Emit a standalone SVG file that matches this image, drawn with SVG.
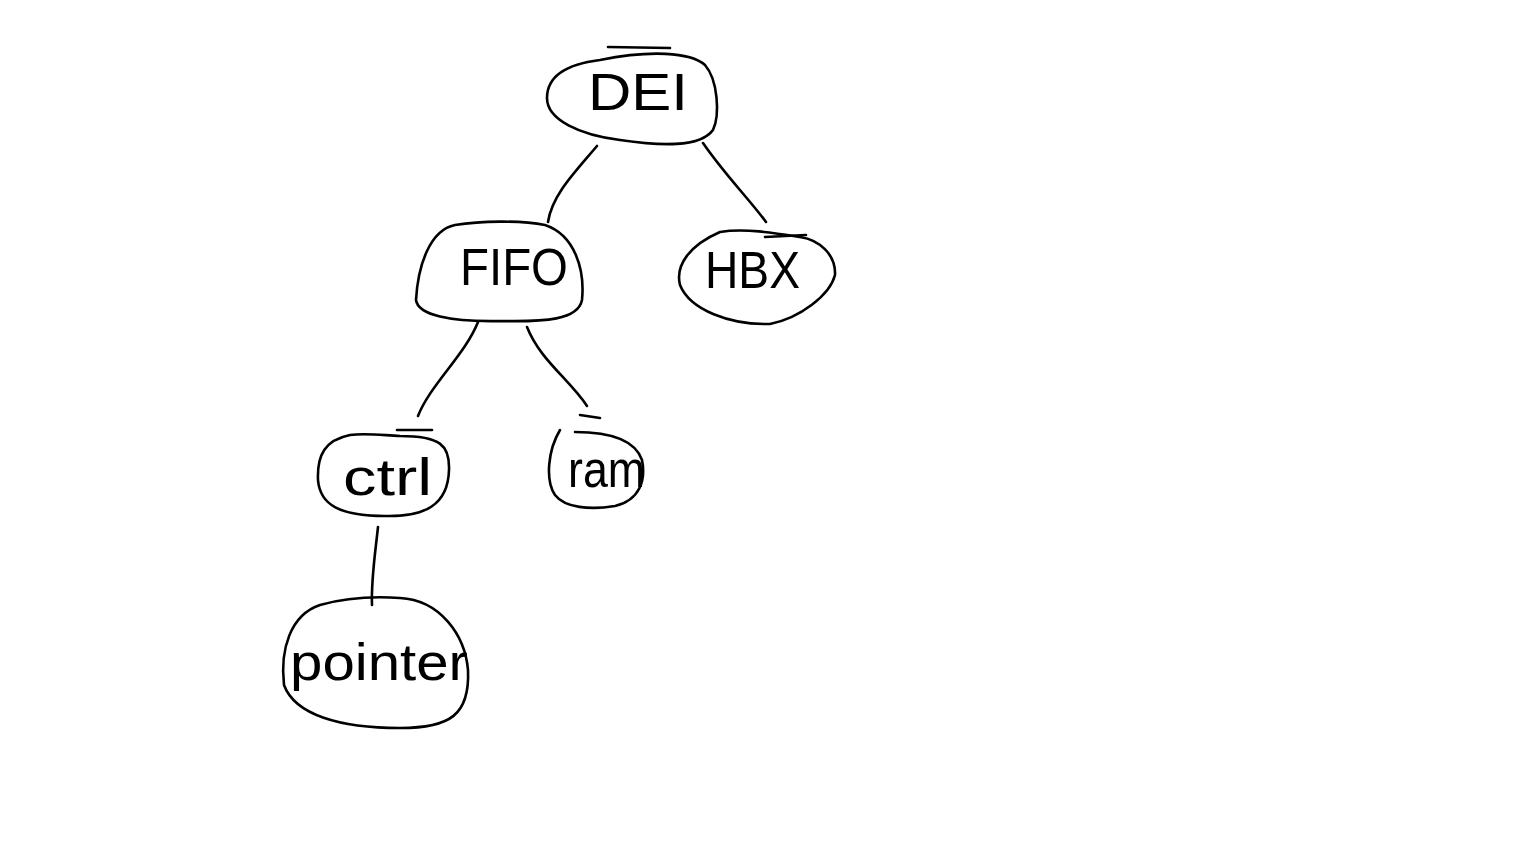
<svg xmlns="http://www.w3.org/2000/svg" width="1536" height="864" viewBox="0 0 1536 864">
<style>
.b{fill:none;stroke:#000;stroke-width:2.6;stroke-linecap:round;stroke-linejoin:round}
.t{font-family:"Liberation Sans",Arial,sans-serif;font-size:52px;fill:#000}
</style>
<rect width="1536" height="864" fill="#fff"/>
<g id="connectors">
<path class="b" d="M597,146 C575,172 552,195 548,222"/>
<path class="b" d="M703,143 C725,175 750,200 766,222"/>
<path class="b" d="M478,322 C465,355 430,385 418,416"/>
<path class="b" d="M527,327 C540,360 570,380 587,406"/>
<path class="b" d="M378,527 C375,555 371,580 372,605"/>
</g>
<g id="node-DEI">
<path class="b" d="M600,60 C560,65 547,80 547,98 C547,120 580,135 620,140 C660,146 700,148 713,130 C720,115 718,80 705,65 C690,52 650,50 600,60 Z"/>
<path class="b" d="M608,47 L670,48"/>
<text class="t" x="588" y="110" textLength="100" lengthAdjust="spacingAndGlyphs">DEI</text>
</g>
<g id="node-FIFO">
<path class="b" d="M455,225 C430,230 418,265 416,300 C418,315 450,322 500,321 C545,322 578,320 582,300 C585,270 575,235 545,225 C520,220 480,221 455,225 Z"/>
<text class="t" x="460" y="285" textLength="108" lengthAdjust="spacingAndGlyphs">FIFO</text>
</g>
<g id="node-HBX">
<path class="b" d="M720,232 C690,245 675,265 680,285 C690,310 730,325 770,324 C800,318 830,295 835,275 C836,255 820,240 800,237 C775,233 745,228 720,232 Z"/>
<path class="b" d="M765,237 L806,235"/>
<text class="t" x="705" y="288" textLength="95" lengthAdjust="spacingAndGlyphs">HBX</text>
</g>
<g id="node-ctrl">
<path class="b" d="M350,435 C325,440 317,455 318,480 C320,505 340,516 385,516 C425,517 448,505 449,470 C450,445 440,436 400,436 C380,435 365,433 350,435 Z"/>
<path class="b" d="M397,430 L432,430"/>
<text class="t" x="343" y="495" textLength="89" lengthAdjust="spacingAndGlyphs">ctrl</text>
</g>
<g id="node-ram">
<path class="b" d="M560,430 C548,450 545,480 555,495 C565,508 590,510 615,506 C640,500 646,480 642,460 C635,440 610,432 575,432"/>
<path class="b" d="M580,415 L600,418"/>
<text class="t" x="568" y="487" textLength="77" lengthAdjust="spacingAndGlyphs">ram</text>
</g>
<g id="node-pointer">
<path class="b" d="M320,605 C290,615 280,650 284,685 C295,715 340,728 400,728 C450,728 470,715 468,670 C465,635 440,600 400,598 C370,596 345,598 320,605 Z"/>
<text class="t" x="290" y="680" textLength="178" lengthAdjust="spacingAndGlyphs">pointer</text>
</g>
</svg>
